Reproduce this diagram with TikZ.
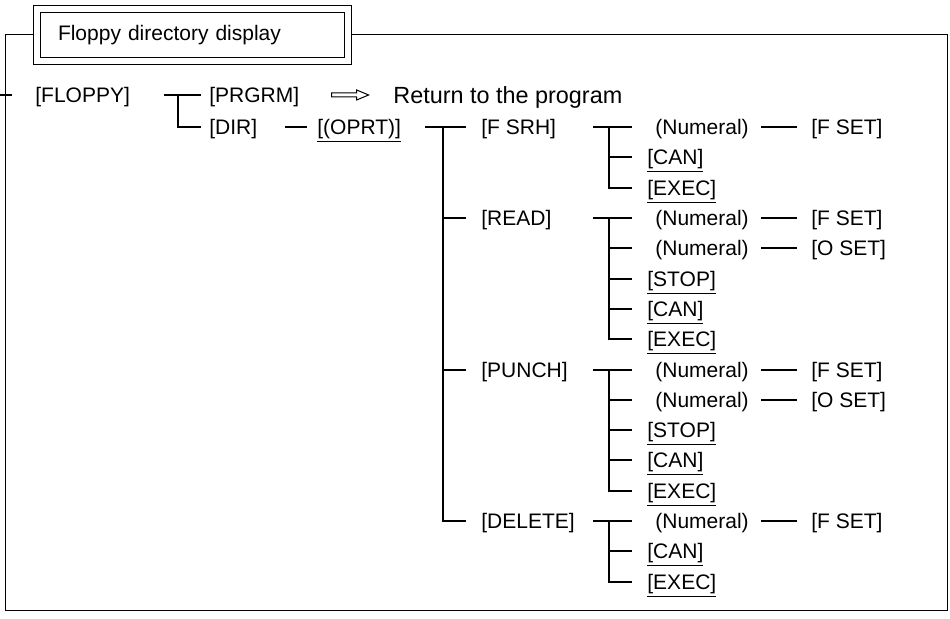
\documentclass[tikz,border=0pt]{standalone}
\usepackage{fontspec}
\setmainfont{Liberation Sans}
\usetikzlibrary{calc, positioning}
\tikzset{
    key_text/.style={anchor=west, inner xsep=0pt, inner ysep=0pt, text height=7.5pt, text depth=0pt},
    title_box/.style={draw, double, double distance=2.8pt, line width=0.6pt, fill=white, minimum height=26pt, text width=134.5pt, inner xsep=10.5pt, align=left},
    tree/.style={line width=1pt},
    frame_line/.style={line width=0.5pt},
    hollow/.style={line width=0.5pt, line join=miter}
}

\begin{document}
\begin{tikzpicture}[x=0.5pt, y=-0.5pt, font=\fontsize{10.5}{12}\selectfont]
			\useasboundingbox (0,0) rectangle (950,619);
			\draw[frame_line] (5,35) rectangle (947,611);
			\node (title) [title_box] at (192.5,35) {Floppy directory display};
			
			% first levels
			\coordinate (entry) at (0,95);
			\node (floppy) [key_text] at (35,95) {[FLOPPY]};
			\node (prgrm) [key_text] at (209,95) {[PRGRM]};
			\node (ret) [key_text, text height=8.3pt, font=\fontsize{11.7}{13}\selectfont] at (393,95) {Return to the program};
			\node (dir) [key_text] at (209,127) {[DIR]};
			\node (oprt) [key_text] at (317,127) {\underline{[(OPRT)]}};
			
			\draw [tree] (entry) -- ($(entry)+(12,0)$);
			\draw [tree] ($(floppy.east)+(34,0)$) -- ($(prgrm.west)+(-8,0)$);
			\draw [tree] (178,0 |- prgrm) |- ($(dir.west)+(-8,0)$);
			\coordinate (arr) at ($(prgrm.east)+(32,0)$);
			\draw [hollow] (arr) ++(0,-2) -- ++(25,0) -- ++(0,-3) -- ++(12,5) -- ++(-12,5) -- ++(0,-3) -- ++(-25,0) -- cycle;
			\draw [tree] ($(dir.east)+(27,0)$) -- ($(oprt.west)+(-10,0)$);
			
			% operations
			\node (fsrh) [key_text] at (481,127) {[F SRH]};
			\node (read) [key_text] at (481,218) {[READ]};
			\node (punch) [key_text] at (481,370) {[PUNCH]};
			\node (delete) [key_text] at (481,521) {[DELETE]};
			
			\draw [tree] ($(oprt.east)+(24,0)$) -- ($(fsrh.west)+(-15,0)$);
			\draw [tree] (443,0 |- fsrh) |- ($(delete.west)+(-15,0)$);
			\draw [tree] (443,0 |- read) -- ($(read.west)+(-15,0)$);
			\draw [tree] (443,0 |- punch) -- ($(punch.west)+(-15,0)$);
			
			% F SRH
			\node (fsrh_num) [key_text] at (655,127) {(Numeral)};
			\node (fsrh_fset) [key_text] at (811,127) {[F SET]};
			\node (fsrh_can) [key_text] at (647,157) {\underline{[CAN]}};
			\node (fsrh_exec) [key_text] at (647,188) {\underline{[EXEC]}};
			\draw [tree] (593,0 |- fsrh) -- (632,0 |- fsrh_num);
			\draw [tree] (609,0 |- fsrh_num) |- (632,0 |- fsrh_exec);
			\draw [tree] (609,0 |- fsrh_can) -- (632,0 |- fsrh_can);
			\draw [tree] ($(fsrh_num.east)+(12,0)$) -- ($(fsrh_fset.west)+(-14,0)$);
			
			% READ
			\node (read_num1) [key_text] at (655,218) {(Numeral)};
			\node (read_fset) [key_text] at (811,218) {[F SET]};
			\node (read_num2) [key_text] at (655,248) {(Numeral)};
			\node (read_oset) [key_text] at (811,248) {[O SET]};
			\node (read_stop) [key_text] at (647,279) {\underline{[STOP]}};
			\node (read_can) [key_text] at (647,309) {\underline{[CAN]}};
			\node (read_exec) [key_text] at (647,339) {\underline{[EXEC]}};
			\draw [tree] (593,0 |- read) -- (632,0 |- read_num1);
			\draw [tree] (609,0 |- read_num1) |- (632,0 |- read_exec);
			\draw [tree] (609,0 |- read_num2) -- (632,0 |- read_num2);
			\draw [tree] (609,0 |- read_stop) -- (632,0 |- read_stop);
			\draw [tree] (609,0 |- read_can) -- (632,0 |- read_can);
			\draw [tree] ($(read_num1.east)+(12,0)$) -- ($(read_fset.west)+(-14,0)$);
			\draw [tree] ($(read_num2.east)+(12,0)$) -- ($(read_oset.west)+(-14,0)$);
			
			% PUNCH
			\node (punch_num1) [key_text] at (655,370) {(Numeral)};
			\node (punch_fset) [key_text] at (811,370) {[F SET]};
			\node (punch_num2) [key_text] at (655,400) {(Numeral)};
			\node (punch_oset) [key_text] at (811,400) {[O SET]};
			\node (punch_stop) [key_text] at (647,430) {\underline{[STOP]}};
			\node (punch_can) [key_text] at (647,460) {\underline{[CAN]}};
			\node (punch_exec) [key_text] at (647,491) {\underline{[EXEC]}};
			\draw [tree] (593,0 |- punch) -- (632,0 |- punch_num1);
			\draw [tree] (609,0 |- punch_num1) |- (632,0 |- punch_exec);
			\draw [tree] (609,0 |- punch_num2) -- (632,0 |- punch_num2);
			\draw [tree] (609,0 |- punch_stop) -- (632,0 |- punch_stop);
			\draw [tree] (609,0 |- punch_can) -- (632,0 |- punch_can);
			\draw [tree] ($(punch_num1.east)+(12,0)$) -- ($(punch_fset.west)+(-14,0)$);
			\draw [tree] ($(punch_num2.east)+(12,0)$) -- ($(punch_oset.west)+(-14,0)$);
			
			% DELETE
			\node (delete_num) [key_text] at (655,521) {(Numeral)};
			\node (delete_fset) [key_text] at (811,521) {[F SET]};
			\node (delete_can) [key_text] at (647,551) {\underline{[CAN]}};
			\node (delete_exec) [key_text] at (647,582) {\underline{[EXEC]}};
			\draw [tree] (593,0 |- delete) -- (632,0 |- delete_num);
			\draw [tree] (609,0 |- delete_num) |- (632,0 |- delete_exec);
			\draw [tree] (609,0 |- delete_can) -- (632,0 |- delete_can);
			\draw [tree] ($(delete_num.east)+(12,0)$) -- ($(delete_fset.west)+(-14,0)$);
		\end{tikzpicture}
\end{document}
